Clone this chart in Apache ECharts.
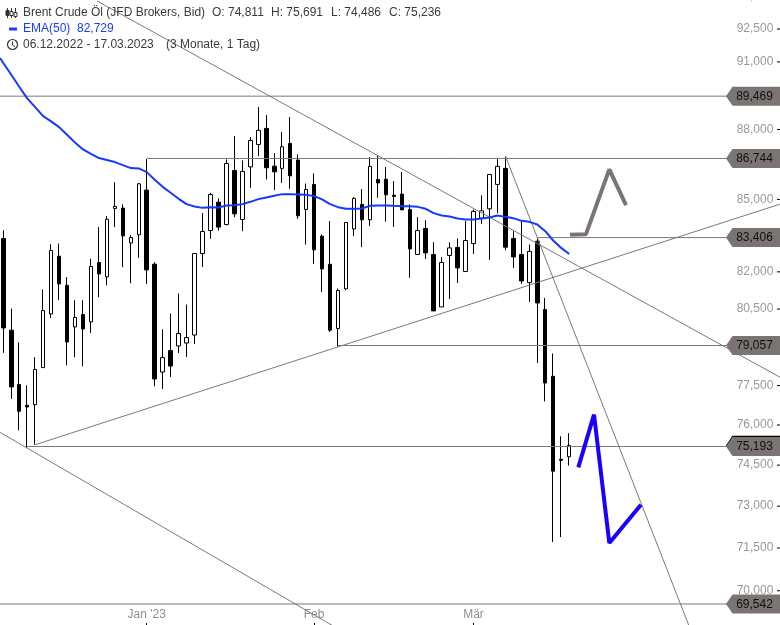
<!DOCTYPE html>
<html><head><meta charset="utf-8">
<style>html,body{margin:0;padding:0;background:#fff}#c{width:780px;height:625px}</style>
<script src="https://cdn.jsdelivr.net/npm/echarts@6/dist/echarts.min.js"></script>
</head><body><div id="c"></div>
<script>
const dates = ["06.12","07.12","08.12","09.12","12.12","13.12","14.12","15.12","16.12","19.12","20.12","21.12","22.12","23.12","27.12","28.12","29.12","30.12",
"02.01","03.01","04.01","05.01","06.01","09.01","10.01","11.01","12.01","13.01","17.01","18.01","19.01","20.01","23.01","24.01","25.01","26.01","27.01","30.01","31.01",
"01.02","02.02","03.02","06.02","07.02","08.02","09.02","10.02","13.02","14.02","15.02","16.02","17.02","20.02","21.02","22.02","23.02","24.02","27.02","28.02",
"01.03","02.03","03.03","06.03","07.03","08.03","09.03","10.03","13.03","14.03","15.03","16.03","17.03"];
const opens = [83370,79660,77540,76745,76770,78195,80305,82640,81455,79790,80280,79990,82380,81795,84620,84635,83185,83520,85395,82310,78025,78860,79040,79155,79470,82750,83700,84885,83950,86230,84160,86385,87350,88050,86415,86320,87395,86675,84580,85635,83465,82310,79725,81310,83765,84790,84145,85845,85855,85180,85225,84580,82710,83785,82710,80585,82670,83000,82015,83160,84215,84605,85635,86320,83370,82710,81565,83255,80480,77860,74720,74811];
const closes = [79750,77450,76520,76680,78120,80440,82875,81510,79195,80165,79710,82220,81915,84170,84705,83475,83410,85660,82080,77755,78585,78255,79530,79370,82750,83660,85210,83840,86530,84395,86190,87525,87965,86345,86170,87250,86000,84310,85420,82900,82120,79660,81245,84035,85045,84145,86405,85700,85195,85125,84560,82940,83700,82775,80425,82380,82980,82160,83285,84495,84520,86060,86405,83010,82610,81630,82835,80745,77600,74280,74680,75236];
const lows = [78770,76990,75800,75135,75260,78195,80145,80855,78285,78600,78245,79550,80975,81455,83840,82190,81535,82570,81510,77475,77370,77835,78765,78610,79115,82200,83355,83700,83910,84255,83670,85490,86845,85845,85395,85700,85450,84185,83120,82325,81185,79590,79025,81270,83465,83010,83890,85070,84065,83850,84560,81760,82710,82530,80425,80585,80905,81550,82015,82735,83975,82490,84425,82885,82160,81510,80785,78375,76895,71710,71890,74486];
const highs = [83710,80520,79180,77510,78600,81285,83130,83160,81785,80855,80855,82530,83840,84300,85730,84790,83505,85700,86715,82390,79695,80320,81125,80680,82765,84425,85280,85045,86705,87715,86660,87670,88985,88635,86965,87890,88545,86920,85675,86105,83535,84090,81325,84045,85095,85435,86800,86875,86375,85775,86160,84790,84255,84130,83215,82600,83215,83370,84090,84580,85170,86075,86715,86845,83670,84065,83120,83370,80945,78745,75575,75691];
const ema50 = [90953,90426,89887,89373,88986,88590,88359,88106,87771,87438,87136,86947,86762,86676,86590,86460,86331,86318,86160,85833,85533,85279,85026,84802,84704,84645,84675,84662,84746,84759,84802,84899,85013,85085,85152,85224,85224,85211,85194,85139,85000,84802,84675,84604,84604,84620,84729,84746,84746,84729,84717,84717,84687,84604,84423,84327,84285,84201,84159,84159,84201,84243,84327,84268,84214,84101,84059,83950,83672,83286,82980,82729];
const emaBefore = [-0.41,91178];
const yTicks = [94000,92500,91000,88000,85000,82000,80500,77500,76000,74500,73000,71500,70000];
const monthTicks = {18:"Jan '23",39:"Feb",59:"Mär"};
const levels = [89469,86744,83406,79057,75193,69542];
const levelStarts = [-0.6,18,67,42,3,-0.6];
const lastPrice = 75236;
const trendLines = [
  [[11.76,93794],[97.46,77822]],
  [[-0.41,75724],[41.37,68790]],
  [[4.02,75261],[97.46,84802]],
  [[63.01,86847],[86.04,68790]]
];
const forecastGrey = [[71.11,83519],[73.11,83548],[76.04,86275],[78.13,84759]];
const forecastBlue = [[72.15,74419],[74.12,76392],[76.04,71677],[80.01,73052]];

const slots = 98, grey = '#7c7876', tagX = 94.07, tickFrom = 97.08, tickTo = 97.46;
const cats = dates.concat(Array(slots - dates.length).fill('').map((_, i) => 'f' + i));
const candleData = dates.map((_, i) => [opens[i], closes[i], lows[i], highs[i]]);
const emaLine = [emaBefore].concat(ema50.map((v, i) => [i, v]));
const fmt = v => Math.round(v).toLocaleString('en-US');
const tagPath = 'path://M0,50 L12,0 L100,0 L100,100 L12,100 Z';
const lineS = (data, color, width, z) => ({type:'line', xAxisIndex:1, yAxisIndex:0, data, symbol:'none', silent:true, z,
  animation:false, lineStyle:{color, width, cap:'butt', join:'bevel'}});

const series = [];
levels.forEach((v, i) => series.push(lineS([[levelStarts[i], v],[tagX, v]], grey, 1, 4)));
trendLines.forEach(t => series.push(lineS(t, grey, 1, 4)));
yTicks.forEach(v => series.push(lineS([[tickFrom, v],[tickTo, v]], '#000', 1, 6)));
series.push({type:'candlestick', xAxisIndex:0, yAxisIndex:0, data:candleData, barWidth:4, z:3, animation:false, silent:true,
  itemStyle:{color:'#fff', color0:'#000', borderColor:'#000', borderColor0:'#000', borderWidth:1}});
series.push(lineS(emaLine, '#1439ff', 2, 5));
series.push(lineS(forecastGrey, '#7a7573', 4, 5));
series.push(lineS(forecastBlue, '#1a00ff', 4, 5));
series.push({type:'scatter', xAxisIndex:1, yAxisIndex:0, data:[[tagX, lastPrice]], symbol:tagPath, symbolSize:[54,19], z:6, silent:true, animation:false,
  itemStyle:{color:'#000', opacity:1}});
series.push({type:'scatter', xAxisIndex:1, yAxisIndex:0, data:levels.map(v => [tagX, v]), symbol:tagPath, symbolSize:[54,19], z:7, silent:true, animation:false,
  itemStyle:{color:'#7a7573', opacity:1},
  label:{show:true, position:'inside', offset:[1.5,0.5], color:'#111', fontFamily:'Liberation Sans', fontSize:12, formatter:p => fmt(p.value[1])}});

const txt = (x, y, text, fill) => ({type:'text', x, y, z:20, style:{text, fill:fill||'#3a3a3a', font:'12px "Liberation Sans"', textVerticalAlign:'middle'}});
const ln = (x1,y1,x2,y2,stroke,w) => ({type:'line', z:20, shape:{x1,y1,x2,y2}, style:{stroke:stroke||'#333', lineWidth:w||1}});
const rc = (x,y,w,h,fill) => ({type:'rect', z:20, shape:{x,y,width:w,height:h}, style:{fill:fill||'#fff', stroke:'#333', lineWidth:1}});
const graphics = [
  txt(23,13,'Brent Crude Öl (JFD Brokers, Bid)'), txt(212,13,'O: 74,811'), txt(271,13,'H: 75,691'), txt(331,13,'L: 74,486'), txt(389,13,'C: 75,236'),
  txt(23,29,'EMA(50)','#1a3cff'), txt(77,29,'82,729','#1a3cff'),
  txt(23,45,'06.12.2022 - 17.03.2023'), txt(166,45,'(3 Monate, 1 Tag)'),
  ln(7.5,8,7.5,18), rc(6,10.5,3,5,'#333'), ln(11.5,8,11.5,18), rc(10,11.5,3,4), ln(15.5,8,15.5,18), rc(14,12.5,3,4),
  {type:'rect', z:20, shape:{x:9,y:27.5,width:8,height:3}, style:{fill:'#1a3cff'}},
  {type:'circle', z:20, shape:{cx:12.5,cy:44.5,r:5}, style:{fill:'none', stroke:'#333', lineWidth:1.2}},
  ln(12.5,41.5,12.5,45,'#333',1), ln(12.5,45,15,47,'#333',1)
];

const chart = echarts.init(document.getElementById('c'), null, {renderer:'canvas'});
chart.setOption({
  animation:false,
  backgroundColor:'#fff',
  grid:{left:-0.7, top:-9, width:781.06, height:635, containLabel:false, outerBoundsMode:'none'},
  xAxis:[
    {type:'category', data:cats, boundaryGap:true, axisLine:{show:false},
     axisTick:{show:true, inside:true, length:3, alignWithLabel:true, interval:i => monthTicks[i] !== undefined, lineStyle:{color:'#000'}},
     axisLabel:{inside:true, margin:5, interval:i => monthTicks[i] !== undefined, color:'#8f8f8f', fontFamily:'Liberation Sans', fontSize:12,
       formatter:(v, i) => monthTicks[i] || ''},
     splitLine:{show:false}},
    {type:'value', min:-0.5, max:slots-0.5, show:false, splitLine:{show:false}}
  ],
  yAxis:[{type:'log', logBase:10, position:'right', min:68786, max:94261, scale:true,
    axisLine:{show:false},
    axisTick:{show:false},
    minorTick:{show:false}, splitLine:{show:false},
    axisLabel:{inside:true, margin:7, customValues:yTicks, hideOverlap:false, showMaxLabel:true, color:'#999', fontFamily:'Liberation Sans', fontSize:12, formatter:v => fmt(v)}
  }],
  graphic:graphics,
  series
});
</script></body></html>
